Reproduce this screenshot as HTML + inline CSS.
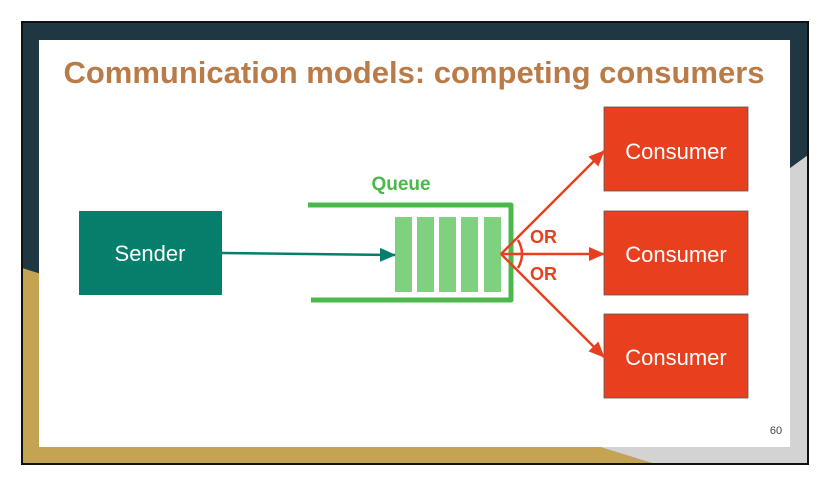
<!DOCTYPE html>
<html><head><style>
html,body{margin:0;padding:0;background:#fff;}
body{width:836px;height:496px;position:relative;overflow:hidden;font-family:"Liberation Sans","DejaVu Sans",sans-serif;}
</style></head><body>
<svg width="836" height="496" viewBox="0 0 836 496" xmlns="http://www.w3.org/2000/svg" style="position:absolute;left:0;top:0">
<defs>
<marker id="ta" markerWidth="16" markerHeight="16" refX="15" refY="8" orient="auto" markerUnits="userSpaceOnUse"><path d="M0,1 L16,8 L0,15 z" fill="#057f6c"/></marker>
<marker id="ra" markerWidth="16" markerHeight="16" refX="15" refY="8" orient="auto" markerUnits="userSpaceOnUse"><path d="M0,1 L16,8 L0,15 z" fill="#e8401f"/></marker>
</defs>
<rect x="22" y="22" width="786" height="442" fill="#1f3643"/>
<polygon points="22,268 60,282 60,464 22,464" fill="#c4a352"/>
<polygon points="22,268 600,447 655,464 22,464" fill="#c4a352"/>
<polygon points="808,155 760,190 760,447 600,447 655,464 808,464" fill="#d3d3d3"/>
<rect x="22" y="22" width="786" height="442" fill="none" stroke="#111" stroke-width="2"/>
<rect x="39" y="40" width="751" height="407" fill="#fff"/>
<text x="414" y="83" text-anchor="middle" font-family="Liberation Sans, sans-serif" font-weight="bold" font-size="31" fill="#b97b48">Communication models: competing consumers</text>
<rect x="79" y="211" width="143" height="84" fill="#057f6c"/>
<text x="150" y="261" text-anchor="middle" font-size="22" fill="#fff">Sender</text>
<g fill="#e8401f" stroke="#555" stroke-width="0.8">
<rect x="604" y="107" width="144" height="84"/>
<rect x="604" y="211" width="144" height="84"/>
<rect x="604" y="314" width="144" height="84"/>
</g>
<g font-size="22" fill="#fff" text-anchor="middle">
<text x="676" y="159">Consumer</text>
<text x="676" y="262">Consumer</text>
<text x="676" y="365">Consumer</text>
</g>
<text x="401" y="190" text-anchor="middle" font-weight="bold" font-size="19" fill="#4cb84c">Queue</text>
<path d="M308,205 H511 V300 H311" fill="none" stroke="#4cb84c" stroke-width="5" stroke-linejoin="round"/>
<g fill="#7fd07f">
<rect x="395" y="217" width="17" height="75"/>
<rect x="417" y="217" width="17" height="75"/>
<rect x="439" y="217" width="17" height="75"/>
<rect x="461" y="217" width="17" height="75"/>
<rect x="484" y="217" width="17" height="75"/>
</g>
<line x1="222" y1="253" x2="395" y2="255" stroke="#057f6c" stroke-width="2.5" marker-end="url(#ta)"/>
<g stroke="#e8401f" stroke-width="2.5" fill="none">
<line x1="501" y1="254" x2="604" y2="151" marker-end="url(#ra)"/>
<line x1="501" y1="254" x2="604" y2="254" marker-end="url(#ra)"/>
<line x1="501" y1="254" x2="604" y2="357" marker-end="url(#ra)"/>
<path d="M518,240 Q526,254 518,268"/>
</g>
<text x="530" y="243" font-weight="bold" font-size="18" fill="#e8401f">OR</text>
<text x="530" y="280" font-weight="bold" font-size="18" fill="#e8401f">OR</text>
<text x="776" y="434" text-anchor="middle" font-size="11" fill="#444">60</text>
</svg>
</body></html>
